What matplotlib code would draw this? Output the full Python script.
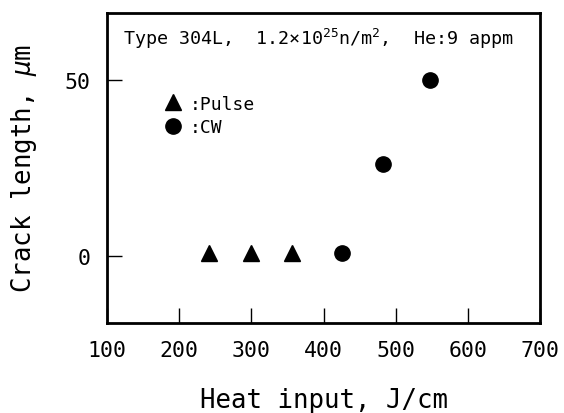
import matplotlib
matplotlib.use("Agg")
import matplotlib.pyplot as plt
from matplotlib.lines import Line2D

# data
pulse_heat = [242, 300, 357]
pulse_crack = [1, 1, 1]
cw_heat = [425, 483, 547]
cw_crack = [1, 26, 50]

x_ticks = [100, 200, 300, 400, 500, 600, 700]
y_ticks = [0, 50]

plt.rcParams["font.family"] = ["DejaVu Sans Mono"]
plt.rcParams["mathtext.fontset"] = "custom"
plt.rcParams["mathtext.rm"] = "DejaVu Sans Mono"
plt.rcParams["mathtext.it"] = "DejaVu Sans Mono:italic"

fig = plt.figure(figsize=(5.64, 4.14), dpi=100)
ax = fig.add_axes([107 / 564, 1 - 324 / 414, 433 / 564, 310 / 414])

ax.plot(pulse_heat, pulse_crack, ls="none", marker="^", ms=11,
        color="black", clip_on=False)
ax.plot(cw_heat, cw_crack, ls="none", marker="o", ms=11,
        color="black", clip_on=False)

ax.set_xlim(100, 700)
ax.set_ylim(-19, 69)
ax.set_xticks(x_ticks)
ax.set_yticks(y_ticks)
ax.tick_params(direction="in", length=11, width=1, labelsize=15.5, pad=12)

for sp in ax.spines.values():
    sp.set_linewidth(2)

ax.set_xlabel("Heat input, J/cm", fontsize=18.5, labelpad=20)
ax.set_ylabel("Crack length, $\\mu$m", fontsize=18.5, labelpad=18)

ax.text(0.037, 0.919,
        "Type 304L,  1.2$\\times$10$^{25}$n/m$^{2}$,  He:9 appm",
        transform=ax.transAxes, fontsize=13.2, va="center", ha="left")

handles = [
    Line2D([], [], ls="none", marker="^", ms=11, color="black"),
    Line2D([], [], ls="none", marker="o", ms=11, color="black"),
]
ax.legend(handles, [":Pulse", ":CW"], loc="upper left",
          bbox_to_anchor=(0.115, 0.76), frameon=False, fontsize=13,
          handlelength=1.0, handletextpad=0.45, labelspacing=0.3,
          borderaxespad=0)

fig.savefig("out.png", dpi=100, facecolor="white")
